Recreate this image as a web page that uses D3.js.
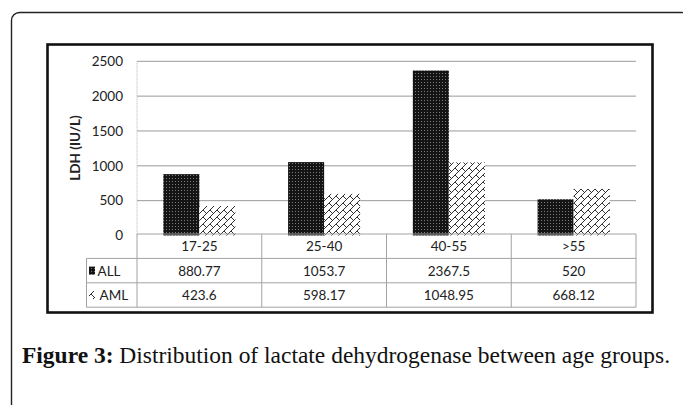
<!DOCTYPE html>
<html>
<head>
<meta charset="utf-8">
<script src="https://cdn.jsdelivr.net/npm/d3@7"></script>
<style>
  body { margin: 0; background: #fff; }
  svg { display: block; }
</style>
</head>
<body>
<div id="chart"></div>
<script>
// chart values
const categories = ["17-25", "25-40", "40-55", ">55"];
const seriesNames = ["ALL", "AML"];
const allValues = [880.77, 1053.7, 2367.5, 520];
const amlValues = [423.6, 598.17, 1048.95, 668.12];
const yTicks = [0, 500, 1000, 1500, 2000, 2500];
const yLabel = "LDH (IU/L)";
const captionBold = "Figure 3:";
const captionText = " Distribution of lactate dehydrogenase between age groups.";

const W = 683, H = 405;
const plot = { left: 137, right: 636, top: 61.3, bottom: 235.5 };
const rowH = 24.4;
const legendLeft = 86.5;

const svg = d3.select("#chart").append("svg")
  .attr("width", W)
  .attr("height", H);

const defs = svg.append("defs");

// dense dark dotted fill for ALL
const pAll = defs.append("pattern")
  .attr("id", "patAll")
  .attr("patternUnits", "userSpaceOnUse")
  .attr("width", 3).attr("height", 3);
pAll.append("rect").attr("width", 3).attr("height", 3).attr("fill", "#141414");
pAll.append("rect").attr("x", 1).attr("y", 1).attr("width", 1).attr("height", 1).attr("fill", "#7a7a7a");

// diagonal brick hatch for AML
const pAml = defs.append("pattern")
  .attr("id", "patAml")
  .attr("patternUnits", "userSpaceOnUse")
  .attr("width", 7).attr("height", 7);
pAml.append("rect").attr("width", 7).attr("height", 7).attr("fill", "#fff");
pAml.append("path")
  .attr("d", "M-1,8 L8,-1 M0,0 L3.5,3.5 M-1,1 L1,-1 M6,8 L8,6")
  .attr("stroke", "#1a1a1a")
  .attr("stroke-width", 0.9)
  .attr("fill", "none");

const fills = { ALL: "url(#patAll)", AML: "url(#patAml)" };

// outer page frame
svg.append("rect")
  .attr("x", 11.5).attr("y", 12.5)
  .attr("width", 678).attr("height", 440)
  .attr("rx", 8)
  .attr("fill", "none")
  .attr("stroke", "#222")
  .attr("stroke-width", 1.4);

// chart box
svg.append("rect")
  .attr("x", 47.5).attr("y", 44.5)
  .attr("width", 605).attr("height", 268)
  .attr("fill", "#fff")
  .attr("stroke", "#111")
  .attr("stroke-width", 2.6);

// scales
const x = d3.scaleBand()
  .domain(categories)
  .range([plot.left, plot.right]);

const xs = d3.scaleBand()
  .domain(seriesNames)
  .range([0, x.bandwidth()])
  .paddingOuter(0.73);

const y = d3.scaleLinear()
  .domain([0, 2500])
  .range([plot.bottom, plot.top]);

// gridlines
svg.append("g")
  .selectAll("line")
  .data(yTicks.filter(d => d > 0))
  .join("line")
    .attr("x1", plot.left).attr("x2", plot.right)
    .attr("y1", d => y(d)).attr("y2", d => y(d))
    .attr("stroke", "#9a9a9a")
    .attr("stroke-width", 1);

// y axis (dotted vertical line)
svg.append("line")
  .attr("x1", plot.left).attr("x2", plot.left)
  .attr("y1", plot.top).attr("y2", plot.bottom)
  .attr("stroke", "#b5b5b5")
  .attr("stroke-dasharray", "1,1");

// y tick labels
const yAxis = svg.append("g")
  .attr("transform", `translate(${plot.left},0)`)
  .call(d3.axisLeft(y).tickValues(yTicks).tickFormat(d3.format("d")).tickSize(0).tickPadding(14));
yAxis.select(".domain").remove();
yAxis.selectAll("text")
  .style("font-family", "Lato, 'Open Sans', sans-serif")
  .style("font-size", "13.5px")
  .attr("fill", "#222");

// y axis title
svg.append("text")
  .attr("transform", `translate(80,148) rotate(-90)`)
  .attr("text-anchor", "middle")
  .style("font-family", "Lato, 'Open Sans', sans-serif")
  .style("font-weight", "bold")
  .style("font-size", "13.5px")
  .attr("fill", "#222")
  .text(yLabel);

// bars
const seriesData = seriesNames.map((s, i) => ({
  name: s,
  values: i === 0 ? allValues : amlValues
}));

svg.append("g")
  .selectAll("g")
  .data(seriesData)
  .join("g")
    .attr("fill", d => fills[d.name])
  .selectAll("rect")
  .data(d => d.values.map((v, j) => ({ name: d.name, cat: categories[j], v: v })))
  .join("rect")
    .attr("x", d => x(d.cat) + xs(d.name))
    .attr("y", d => y(d.v))
    .attr("width", xs.bandwidth())
    .attr("height", d => y(0) - y(d.v));

// data table under the plot
const table = svg.append("g");
const tableTop = plot.bottom - 1.5;
const rows = [tableTop, tableTop + rowH, tableTop + 2 * rowH, tableTop + 3 * rowH];
const gridColor = "#a3a3a3";

// horizontal lines
table.append("line")
  .attr("x1", plot.left).attr("x2", plot.right)
  .attr("y1", rows[0]).attr("y2", rows[0])
  .attr("stroke", gridColor);
rows.slice(1).forEach(r => {
  table.append("line")
    .attr("x1", legendLeft).attr("x2", plot.right)
    .attr("y1", r).attr("y2", r)
    .attr("stroke", gridColor);
});
// vertical lines
categories.forEach(c => {
  table.append("line")
    .attr("x1", x(c)).attr("x2", x(c))
    .attr("y1", rows[0]).attr("y2", rows[3])
    .attr("stroke", gridColor);
});
table.append("line")
  .attr("x1", plot.right).attr("x2", plot.right)
  .attr("y1", rows[0]).attr("y2", rows[3])
  .attr("stroke", gridColor);
table.append("line")
  .attr("x1", legendLeft).attr("x2", legendLeft)
  .attr("y1", rows[1]).attr("y2", rows[3])
  .attr("stroke", gridColor);

const cellFont = sel => sel
  .style("font-family", "Lato, 'Open Sans', sans-serif")
  .style("font-size", "13.5px")
  .attr("fill", "#222")
  .attr("dominant-baseline", "central");

// category header row
table.selectAll("text.cat")
  .data(categories)
  .join("text")
    .attr("class", "cat")
    .attr("x", d => x(d) + x.bandwidth() / 2)
    .attr("y", rows[0] + rowH / 2)
    .attr("text-anchor", "middle")
    .text(d => d)
    .call(cellFont);

// value rows
seriesData.forEach((s, i) => {
  const cy = rows[i + 1] + rowH / 2;
  table.selectAll(`text.v${i}`)
    .data(s.values)
    .join("text")
      .attr("class", `v${i}`)
      .attr("x", (d, j) => x(categories[j]) + x.bandwidth() / 2)
      .attr("y", cy)
      .attr("text-anchor", "middle")
      .text(d => String(d))
      .call(cellFont);

  // legend key
  table.append("rect")
    .attr("x", legendLeft + 2.5)
    .attr("y", cy - 4)
    .attr("width", 6).attr("height", 8)
    .attr("fill", fills[s.name]);
  table.append("text")
    .attr("x", legendLeft + (i === 0 ? 11 : 13))
    .attr("y", cy)
    .text(s.name)
    .call(cellFont);
});

// caption
const cap = svg.append("text")
  .attr("x", 22)
  .attr("y", 363)
  .style("font-family", "'Liberation Serif', 'DejaVu Serif', serif")
  .style("font-size", "20px")
  .attr("fill", "#111");
cap.append("tspan")
  .style("font-weight", "bold")
  .text(captionBold);
cap.append("tspan")
  .text(captionText);
// stretch caption to the width it takes in the figure
const capLen = cap.node().getComputedTextLength();
cap.style("font-size", (20 * 648 / capLen).toFixed(2) + "px");
</script>
</body>
</html>
